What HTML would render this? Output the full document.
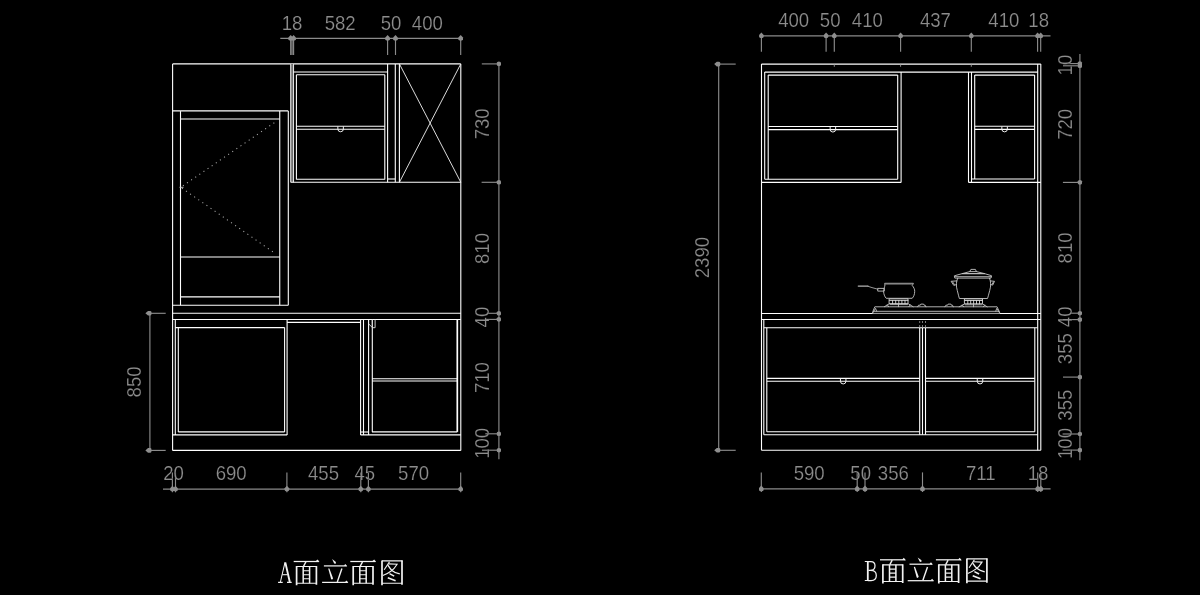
<!DOCTYPE html>
<html><head><meta charset="utf-8"><title>Elevation</title>
<style>
html,body{margin:0;padding:0;background:#000;}
body{width:1200px;height:595px;overflow:hidden;font-family:"Liberation Sans",sans-serif;}
svg{display:block;}
.d{font-family:"Liberation Sans",sans-serif;font-size:20px;fill:#8e8e8e;text-anchor:middle;stroke:#000;stroke-width:0.2px;}
</style></head><body>
<svg width="1200" height="595" viewBox="0 0 1200 595">
<rect width="1200" height="595" fill="#000"/>
<g id="A">
<line x1="172.6" y1="63.9" x2="172.6" y2="450.4" stroke="#ffffff" stroke-width="1.1"/>
<line x1="460.8" y1="63.9" x2="460.8" y2="450.4" stroke="#ffffff" stroke-width="1.1"/>
<line x1="172.6" y1="63.9" x2="460.8" y2="63.9" stroke="#ffffff" stroke-width="1.1"/>
<line x1="172.6" y1="450.4" x2="460.8" y2="450.4" stroke="#ffffff" stroke-width="1.1"/>
<line x1="172.6" y1="110.9" x2="288.3" y2="110.9" stroke="#ffffff" stroke-width="1.1"/>
<line x1="288.3" y1="110.9" x2="288.3" y2="305.2" stroke="#ffffff" stroke-width="1.1"/>
<line x1="172.6" y1="305.2" x2="288.3" y2="305.2" stroke="#ffffff" stroke-width="1.1"/>
<line x1="180.5" y1="111.1" x2="180.5" y2="305.2" stroke="#ffffff" stroke-width="1.1"/>
<line x1="279.75" y1="111.1" x2="279.75" y2="305.2" stroke="#ffffff" stroke-width="1.1"/>
<line x1="180.5" y1="119.05" x2="279.75" y2="119.05" stroke="#ffffff" stroke-width="1.1"/>
<line x1="180.5" y1="257" x2="279.75" y2="257" stroke="#ffffff" stroke-width="1.1"/>
<line x1="180.5" y1="296.9" x2="279.75" y2="296.9" stroke="#ffffff" stroke-width="1.1"/>
<path d="M274.3 122.7 L180.8 187.3 L274.5 253" stroke="#a8a8a8" stroke-width="1.05" fill="none" stroke-dasharray="1.1 3.9"/>
<line x1="179.5" y1="187.3" x2="183.5" y2="187.3" stroke="#cfcfcf" stroke-width="0.9"/>
<rect x="290.7" y="63.9" width="2.8" height="118.4" fill="#6a6a6a"/>
<line x1="290.7" y1="63.9" x2="290.7" y2="182.3" stroke="#e0e0e0" stroke-width="1.1"/>
<line x1="293.5" y1="63.9" x2="293.5" y2="182.3" stroke="#e0e0e0" stroke-width="1.1"/>
<line x1="387.6" y1="63.9" x2="387.6" y2="182.3" stroke="#ffffff" stroke-width="1.1"/>
<line x1="293.5" y1="72" x2="387.6" y2="72" stroke="#ffffff" stroke-width="1.1"/>
<line x1="296.4" y1="74.8" x2="384.8" y2="74.8" stroke="#ffffff" stroke-width="1.1"/>
<line x1="296.4" y1="74.8" x2="296.4" y2="179.4" stroke="#ffffff" stroke-width="1.1"/>
<line x1="384.8" y1="74.8" x2="384.8" y2="179.4" stroke="#ffffff" stroke-width="1.1"/>
<line x1="296.4" y1="126.2" x2="384.8" y2="126.2" stroke="#ffffff" stroke-width="1.1"/>
<line x1="296.4" y1="129.3" x2="384.8" y2="129.3" stroke="#ffffff" stroke-width="1.1"/>
<path d="M337.85 126.4 v2.6 a2.75 2.75 0 0 0 5.5 0 v-2.6" stroke="#f0f0f0" stroke-width="1" fill="none"/>
<line x1="296.4" y1="179.2" x2="384.8" y2="179.2" stroke="#ffffff" stroke-width="1.1"/>
<line x1="387.6" y1="179" x2="395.3" y2="179" stroke="#ffffff" stroke-width="1.1"/>
<line x1="290.7" y1="182.3" x2="460.8" y2="182.3" stroke="#ffffff" stroke-width="1.1"/>
<line x1="395.3" y1="63.9" x2="395.3" y2="182.3" stroke="#ffffff" stroke-width="1.1"/>
<line x1="399.4" y1="63.9" x2="399.4" y2="182.3" stroke="#ffffff" stroke-width="1.1"/>
<line x1="399.4" y1="63.9" x2="460.8" y2="182.3" stroke="#f4f4f4" stroke-width="0.9"/>
<line x1="460.8" y1="63.9" x2="399.4" y2="182.3" stroke="#f4f4f4" stroke-width="0.9"/>
<line x1="172.6" y1="313.3" x2="460.8" y2="313.3" stroke="#ffffff" stroke-width="1.1"/>
<line x1="172.6" y1="319.55" x2="460.8" y2="319.55" stroke="#ffffff" stroke-width="1.1"/>
<line x1="175.3" y1="319.55" x2="175.3" y2="434.9" stroke="#ffffff" stroke-width="1.1"/>
<line x1="178.3" y1="327.6" x2="178.3" y2="431.9" stroke="#ffffff" stroke-width="1.1"/>
<line x1="175.3" y1="327.6" x2="284.6" y2="327.6" stroke="#ffffff" stroke-width="1.1"/>
<line x1="284.6" y1="327.6" x2="284.6" y2="431.9" stroke="#ffffff" stroke-width="1.1"/>
<line x1="287.1" y1="319.55" x2="287.1" y2="434.9" stroke="#ffffff" stroke-width="1.1"/>
<line x1="178.3" y1="431.9" x2="284.6" y2="431.9" stroke="#ffffff" stroke-width="1.1"/>
<line x1="172.6" y1="434.9" x2="287.1" y2="434.9" stroke="#ffffff" stroke-width="1.1"/>
<line x1="287.1" y1="322.4" x2="360.6" y2="322.4" stroke="#ffffff" stroke-width="1.1"/>
<line x1="360.6" y1="319.55" x2="360.6" y2="434.9" stroke="#ffffff" stroke-width="1.1"/>
<line x1="363.5" y1="319.55" x2="363.5" y2="434.9" stroke="#ffffff" stroke-width="1.1"/>
<line x1="360.6" y1="432" x2="368.6" y2="432" stroke="#ffffff" stroke-width="1.1"/>
<line x1="368.6" y1="319.55" x2="368.6" y2="434.9" stroke="#ffffff" stroke-width="1.1"/>
<line x1="372.3" y1="319.55" x2="372.3" y2="431.9" stroke="#ffffff" stroke-width="1.1"/>
<path d="M372.3 319.6 V327.7 H375.1 V319.6" stroke="#e0e0e0" stroke-width="0.9" fill="none"/>
<line x1="368.7" y1="323.9" x2="372.4" y2="327.6" stroke="#e0e0e0" stroke-width="0.9"/>
<line x1="457.3" y1="319.55" x2="457.3" y2="431.9" stroke="#ffffff" stroke-width="1.7"/>
<line x1="372" y1="378.7" x2="457.3" y2="378.7" stroke="#ffffff" stroke-width="1.1"/>
<line x1="372" y1="381" x2="457.3" y2="381" stroke="#ffffff" stroke-width="1.1"/>
<line x1="372" y1="431.9" x2="457.3" y2="431.9" stroke="#ffffff" stroke-width="1.1"/>
<line x1="360.6" y1="434.9" x2="460.8" y2="434.9" stroke="#ffffff" stroke-width="1.1"/>
</g>
<g id="Adim" style="opacity:0.999">
<line x1="280.3" y1="38.3" x2="460.8" y2="38.3" stroke="#8c8c8c" stroke-width="1.15"/>
<rect x="290.7" y="38.3" width="2.9" height="16.7" fill="#5c5c5c"/>
<line x1="290.7" y1="38.3" x2="290.7" y2="55" stroke="#8c8c8c" stroke-width="1.15"/>
<path transform="translate(290.7 38.3)" d="M0 -3.3 L2.3 -0.9 V1 Q2.3 2.4 0 2.4 Q-2.3 2.4 -2.3 1 V-0.9 Z" fill="#8f8f8f"/>
<line x1="293.6" y1="38.3" x2="293.6" y2="55" stroke="#8c8c8c" stroke-width="1.15"/>
<path transform="translate(293.6 38.3)" d="M0 -3.3 L2.3 -0.9 V1 Q2.3 2.4 0 2.4 Q-2.3 2.4 -2.3 1 V-0.9 Z" fill="#8f8f8f"/>
<line x1="387.6" y1="38.3" x2="387.6" y2="55" stroke="#8c8c8c" stroke-width="1.15"/>
<path transform="translate(387.6 38.3)" d="M0 -3.3 L2.3 -0.9 V1 Q2.3 2.4 0 2.4 Q-2.3 2.4 -2.3 1 V-0.9 Z" fill="#8f8f8f"/>
<line x1="395.5" y1="38.3" x2="395.5" y2="55" stroke="#8c8c8c" stroke-width="1.15"/>
<path transform="translate(395.5 38.3)" d="M0 -3.3 L2.3 -0.9 V1 Q2.3 2.4 0 2.4 Q-2.3 2.4 -2.3 1 V-0.9 Z" fill="#8f8f8f"/>
<line x1="460.7" y1="38.3" x2="460.7" y2="55" stroke="#8c8c8c" stroke-width="1.15"/>
<path transform="translate(460.7 38.3)" d="M0 -3.3 L2.3 -0.9 V1 Q2.3 2.4 0 2.4 Q-2.3 2.4 -2.3 1 V-0.9 Z" fill="#8f8f8f"/>
<line x1="163" y1="489.1" x2="460.8" y2="489.1" stroke="#8c8c8c" stroke-width="1.15"/>
<line x1="172.4" y1="472.5" x2="172.4" y2="492.3" stroke="#8c8c8c" stroke-width="1.15"/>
<path transform="translate(172.4 489.1)" d="M0 -3.3 L2.3 -0.9 V1 Q2.3 2.4 0 2.4 Q-2.3 2.4 -2.3 1 V-0.9 Z" fill="#8f8f8f"/>
<line x1="175.5" y1="472.5" x2="175.5" y2="492.3" stroke="#8c8c8c" stroke-width="1.15"/>
<path transform="translate(175.5 489.1)" d="M0 -3.3 L2.3 -0.9 V1 Q2.3 2.4 0 2.4 Q-2.3 2.4 -2.3 1 V-0.9 Z" fill="#8f8f8f"/>
<line x1="286.9" y1="472.5" x2="286.9" y2="492.3" stroke="#8c8c8c" stroke-width="1.15"/>
<path transform="translate(286.9 489.1)" d="M0 -3.3 L2.3 -0.9 V1 Q2.3 2.4 0 2.4 Q-2.3 2.4 -2.3 1 V-0.9 Z" fill="#8f8f8f"/>
<line x1="360.8" y1="472.5" x2="360.8" y2="492.3" stroke="#8c8c8c" stroke-width="1.15"/>
<path transform="translate(360.8 489.1)" d="M0 -3.3 L2.3 -0.9 V1 Q2.3 2.4 0 2.4 Q-2.3 2.4 -2.3 1 V-0.9 Z" fill="#8f8f8f"/>
<line x1="368.4" y1="472.5" x2="368.4" y2="492.3" stroke="#8c8c8c" stroke-width="1.15"/>
<path transform="translate(368.4 489.1)" d="M0 -3.3 L2.3 -0.9 V1 Q2.3 2.4 0 2.4 Q-2.3 2.4 -2.3 1 V-0.9 Z" fill="#8f8f8f"/>
<line x1="460.7" y1="472.5" x2="460.7" y2="492.3" stroke="#8c8c8c" stroke-width="1.15"/>
<path transform="translate(460.7 489.1)" d="M0 -3.3 L2.3 -0.9 V1 Q2.3 2.4 0 2.4 Q-2.3 2.4 -2.3 1 V-0.9 Z" fill="#8f8f8f"/>
<line x1="498.9" y1="63.9" x2="498.9" y2="459.2" stroke="#8c8c8c" stroke-width="1.15"/>
<line x1="481.8" y1="63.9" x2="498.9" y2="63.9" stroke="#8c8c8c" stroke-width="1.15"/>
<path transform="translate(498.9 63.9)" d="M-2.1 -1.1 Q-2.1 -2.1 0 -2.3 Q2.1 -2.1 2.1 -1.1 V1.1 Q2.1 2.1 0 2.3 Q-2.1 2.1 -2.1 1.1 Z" fill="#8f8f8f"/>
<line x1="481.6" y1="182.3" x2="498.9" y2="182.3" stroke="#8c8c8c" stroke-width="1.15"/>
<path transform="translate(498.9 182.3)" d="M-2.1 -1.1 Q-2.1 -2.1 0 -2.3 Q2.1 -2.1 2.1 -1.1 V1.1 Q2.1 2.1 0 2.3 Q-2.1 2.1 -2.1 1.1 Z" fill="#8f8f8f"/>
<line x1="486.8" y1="313.3" x2="498.9" y2="313.3" stroke="#8c8c8c" stroke-width="1.15"/>
<path transform="translate(498.9 313.3)" d="M-2.1 -1.1 Q-2.1 -2.1 0 -2.3 Q2.1 -2.1 2.1 -1.1 V1.1 Q2.1 2.1 0 2.3 Q-2.1 2.1 -2.1 1.1 Z" fill="#8f8f8f"/>
<line x1="485" y1="319.4" x2="498.9" y2="319.4" stroke="#8c8c8c" stroke-width="1.15"/>
<path transform="translate(498.9 319.4)" d="M-2.1 -1.1 Q-2.1 -2.1 0 -2.3 Q2.1 -2.1 2.1 -1.1 V1.1 Q2.1 2.1 0 2.3 Q-2.1 2.1 -2.1 1.1 Z" fill="#8f8f8f"/>
<line x1="485.3" y1="433.8" x2="498.9" y2="433.8" stroke="#8c8c8c" stroke-width="1.15"/>
<path transform="translate(498.9 433.8)" d="M-2.1 -1.1 Q-2.1 -2.1 0 -2.3 Q2.1 -2.1 2.1 -1.1 V1.1 Q2.1 2.1 0 2.3 Q-2.1 2.1 -2.1 1.1 Z" fill="#8f8f8f"/>
<line x1="482" y1="450.2" x2="498.9" y2="450.2" stroke="#8c8c8c" stroke-width="1.15"/>
<path transform="translate(498.9 450.2)" d="M-2.1 -1.1 Q-2.1 -2.1 0 -2.3 Q2.1 -2.1 2.1 -1.1 V1.1 Q2.1 2.1 0 2.3 Q-2.1 2.1 -2.1 1.1 Z" fill="#8f8f8f"/>
<line x1="149.9" y1="313.3" x2="149.9" y2="450.4" stroke="#8c8c8c" stroke-width="1.15"/>
<line x1="149.9" y1="313.3" x2="165.7" y2="313.3" stroke="#8c8c8c" stroke-width="1.15"/>
<path transform="translate(149.9 313.3)" d="M-4.5 0 L-1.9 -2.3 H0.4 Q1.7 -2.3 1.7 0 Q1.7 2.3 0.4 2.3 H-1.9 Z" fill="#8f8f8f"/>
<line x1="149.9" y1="450.4" x2="165.7" y2="450.4" stroke="#8c8c8c" stroke-width="1.15"/>
<path transform="translate(149.9 450.4)" d="M-4.5 0 L-1.9 -2.3 H0.4 Q1.7 -2.3 1.7 0 Q1.7 2.3 0.4 2.3 H-1.9 Z" fill="#8f8f8f"/>
<text transform="translate(292 30.2) scale(0.93 1)" class="d">18</text>
<text transform="translate(340.2 30.2) scale(0.93 1)" class="d">582</text>
<text transform="translate(391 30.2) scale(0.93 1)" class="d">50</text>
<text transform="translate(427.3 30.2) scale(0.93 1)" class="d">400</text>
<text transform="translate(173.6 480.1) scale(0.93 1)" class="d">20</text>
<text transform="translate(231.2 480.1) scale(0.93 1)" class="d">690</text>
<text transform="translate(323.5 480.1) scale(0.93 1)" class="d">455</text>
<text transform="translate(364.8 480.1) scale(0.93 1)" class="d">45</text>
<text transform="translate(413.6 480.1) scale(0.93 1)" class="d">570</text>
<text transform="translate(489.2 123.8) rotate(-90) scale(0.93 1)" class="d">730</text>
<text transform="translate(489.2 248.5) rotate(-90) scale(0.93 1)" class="d">810</text>
<text transform="translate(489.2 317.1) rotate(-90) scale(0.93 1)" class="d">40</text>
<text transform="translate(489.2 377.6) rotate(-90) scale(0.93 1)" class="d">710</text>
<text transform="translate(489.2 443.3) rotate(-90) scale(0.93 1)" class="d">100</text>
<text transform="translate(140.7 381.9) rotate(-90) scale(0.93 1)" class="d">850</text>
</g>
<g id="B">
<line x1="761.5" y1="64.1" x2="761.5" y2="450.3" stroke="#ffffff" stroke-width="1.1"/>
<line x1="1040.8" y1="64.1" x2="1040.8" y2="450.3" stroke="#ffffff" stroke-width="1.1"/>
<line x1="1037.7" y1="64.1" x2="1037.7" y2="450.3" stroke="#ffffff" stroke-width="1.1"/>
<line x1="761.5" y1="64.1" x2="1040.8" y2="64.1" stroke="#ffffff" stroke-width="1.1"/>
<line x1="761.5" y1="450.3" x2="1040.8" y2="450.3" stroke="#ffffff" stroke-width="1.1"/>
<line x1="764.7" y1="72.1" x2="1037.7" y2="72.1" stroke="#ffffff" stroke-width="1.1"/>
<line x1="834.3" y1="64.3" x2="834.3" y2="66.8" stroke="#9a9a9a" stroke-width="0.9"/>
<line x1="900.6" y1="64.3" x2="900.6" y2="66.8" stroke="#9a9a9a" stroke-width="0.9"/>
<line x1="971.3" y1="64.3" x2="971.3" y2="66.8" stroke="#9a9a9a" stroke-width="0.9"/>
<line x1="764.7" y1="72.1" x2="764.7" y2="179.2" stroke="#ffffff" stroke-width="1.1"/>
<line x1="768.2" y1="75.1" x2="768.2" y2="179.2" stroke="#ffffff" stroke-width="1.1"/>
<line x1="897.7" y1="75.1" x2="897.7" y2="179.2" stroke="#ffffff" stroke-width="1.1"/>
<line x1="901.1" y1="72.1" x2="901.1" y2="182.4" stroke="#ffffff" stroke-width="1.1"/>
<line x1="768.2" y1="75.1" x2="897.7" y2="75.1" stroke="#ffffff" stroke-width="1.1"/>
<line x1="768.2" y1="126.5" x2="897.7" y2="126.5" stroke="#ffffff" stroke-width="1.1"/>
<line x1="768.2" y1="129.6" x2="897.7" y2="129.6" stroke="#ffffff" stroke-width="1.1"/>
<path d="M830.15 126.7 v2.6 a2.75 2.75 0 0 0 5.5 0 v-2.6" stroke="#f0f0f0" stroke-width="1" fill="none"/>
<line x1="764.7" y1="179.2" x2="897.7" y2="179.2" stroke="#ffffff" stroke-width="1.1"/>
<line x1="761.5" y1="182.4" x2="901.1" y2="182.4" stroke="#ffffff" stroke-width="1.1"/>
<line x1="968.5" y1="72.1" x2="968.5" y2="182.4" stroke="#ffffff" stroke-width="1.1"/>
<line x1="971.5" y1="72.1" x2="971.5" y2="182.4" stroke="#ffffff" stroke-width="1.1"/>
<line x1="974.7" y1="75.1" x2="974.7" y2="179" stroke="#ffffff" stroke-width="1.1"/>
<line x1="1034.6" y1="75.1" x2="1034.6" y2="179" stroke="#ffffff" stroke-width="1.1"/>
<line x1="974.7" y1="75.1" x2="1034.6" y2="75.1" stroke="#ffffff" stroke-width="1.1"/>
<line x1="974.7" y1="126.3" x2="1034.6" y2="126.3" stroke="#ffffff" stroke-width="1.1"/>
<line x1="974.7" y1="129.4" x2="1034.6" y2="129.4" stroke="#ffffff" stroke-width="1.1"/>
<path d="M1001.85 126.5 v2.6 a2.75 2.75 0 0 0 5.5 0 v-2.6" stroke="#f0f0f0" stroke-width="1" fill="none"/>
<line x1="971.5" y1="179" x2="1034.6" y2="179" stroke="#ffffff" stroke-width="1.1"/>
<line x1="968.5" y1="182.4" x2="1040.8" y2="182.4" stroke="#ffffff" stroke-width="1.1"/>
<line x1="761.5" y1="313.5" x2="872.8" y2="313.5" stroke="#ffffff" stroke-width="1.1"/>
<line x1="999.5" y1="313.5" x2="1040.8" y2="313.5" stroke="#ffffff" stroke-width="1.1"/>
<line x1="761.5" y1="319.5" x2="1040.8" y2="319.5" stroke="#ffffff" stroke-width="1.1"/>
<line x1="763.8" y1="327.8" x2="1037.7" y2="327.8" stroke="#ffffff" stroke-width="1.1"/>
<line x1="763.8" y1="319.5" x2="763.8" y2="434.7" stroke="#ffffff" stroke-width="1.1"/>
<line x1="766.8" y1="327.8" x2="766.8" y2="431.8" stroke="#ffffff" stroke-width="1.1"/>
<line x1="1034.8" y1="327.8" x2="1034.8" y2="431.8" stroke="#ffffff" stroke-width="1.1"/>
<line x1="919.7" y1="327.8" x2="919.7" y2="434.7" stroke="#ffffff" stroke-width="1.1"/>
<line x1="922.5" y1="327.8" x2="922.5" y2="434.7" stroke="#ffffff" stroke-width="1.1"/>
<line x1="925.5" y1="327.8" x2="925.5" y2="434.7" stroke="#ffffff" stroke-width="1.1"/>
<line x1="919.7" y1="321" x2="919.7" y2="323" stroke="#9a9a9a" stroke-width="0.8"/>
<line x1="919.7" y1="325" x2="919.7" y2="327.5" stroke="#9a9a9a" stroke-width="0.8"/>
<line x1="922.5" y1="321" x2="922.5" y2="323" stroke="#9a9a9a" stroke-width="0.8"/>
<line x1="922.5" y1="325" x2="922.5" y2="327.5" stroke="#9a9a9a" stroke-width="0.8"/>
<line x1="925.5" y1="321" x2="925.5" y2="323" stroke="#9a9a9a" stroke-width="0.8"/>
<line x1="925.5" y1="325" x2="925.5" y2="327.5" stroke="#9a9a9a" stroke-width="0.8"/>
<line x1="766.8" y1="378.4" x2="919.7" y2="378.4" stroke="#ffffff" stroke-width="1.1"/>
<line x1="766.8" y1="381.2" x2="919.7" y2="381.2" stroke="#ffffff" stroke-width="1.1"/>
<line x1="766.8" y1="431.8" x2="919.7" y2="431.8" stroke="#ffffff" stroke-width="1.1"/>
<line x1="925.5" y1="378.4" x2="1034.8" y2="378.4" stroke="#ffffff" stroke-width="1.1"/>
<line x1="925.5" y1="381.2" x2="1034.8" y2="381.2" stroke="#ffffff" stroke-width="1.1"/>
<line x1="925.5" y1="431.8" x2="1034.8" y2="431.8" stroke="#ffffff" stroke-width="1.1"/>
<path d="M840.45 378.6 v2.6 a2.75 2.75 0 0 0 5.5 0 v-2.6" stroke="#f0f0f0" stroke-width="1" fill="none"/>
<path d="M977.25 378.6 v2.6 a2.75 2.75 0 0 0 5.5 0 v-2.6" stroke="#f0f0f0" stroke-width="1" fill="none"/>
<line x1="763.8" y1="434.7" x2="1037.7" y2="434.7" stroke="#ffffff" stroke-width="1.1"/>
</g>
<g id="stove" fill="none" stroke="#c4c4c4" stroke-width="0.9" stroke-linejoin="round" stroke-linecap="round">
<!-- stove body -->
<path d="M875.2 306.8 H997.1 L999.6 312.4 V313.4 H872.7 V312.2 Z"/>
<path d="M873.6 311.3 H998.9"/>
<path d="M872.9 312.6 L875.6 308.4 L876.6 311.2 M999.4 312.6 L996.7 308.4 L995.8 311.2"/>
<!-- knobs -->
<path d="M917.6 306.8 L918.6 305.2 H920.3 L920.8 304.1 H923.6 L924.1 305.2 H925.2 L925.9 306.8"/>
<path d="M944.9 306.8 L945.9 305.2 H947.6 L948.1 304.1 H950.9 L951.4 305.2 H952.5 L953.2 306.8"/>
<!-- left burner -->
<path d="M889.5 298.8 H908 V303.6 H889.5 Z M889.5 300.4 H908 M892.6 300.4 V303.6 M895.7 300.4 V303.6 M898.8 300.4 V303.6 M901.9 300.4 V303.6 M905 300.4 V303.6" stroke="#d8d8d8"/>
<path d="M889.5 303.6 L884.4 306.7 M887.4 304.9 L888.6 306.7 M908 303.6 L913.1 306.7 M910.1 304.9 L908.9 306.7 M898.5 303.6 V306.7 M890 304.6 H907.5"/>
<!-- right burner -->
<path d="M964.8 298.9 H982.5 V303.8 H964.8 Z M964.8 300.5 H982.5 M967.8 300.5 V303.8 M970.7 300.5 V303.8 M973.6 300.5 V303.8 M976.5 300.5 V303.8 M979.5 300.5 V303.8" stroke="#d8d8d8"/>
<path d="M964.8 303.8 L959.2 306.8 M962.4 305.1 L963.6 306.8 M982.5 303.8 L987.1 306.8 M984.6 305.1 L983.4 306.8 M973.5 303.8 V306.8 M965.3 304.8 H982"/>
<!-- saucepan -->
<path d="M885.1 283.3 H913.4 L912.2 285.4 C913.8 287.4 914.8 289.4 914.7 291.4 C914.6 294.4 913.8 296.6 912.2 298.3 H886.2 C884.6 296.6 883.7 294 883.6 291.4 C883.9 289 884.7 286.6 884.9 285.4 Z"/>
<path d="M885.2 284.2 H913" stroke="#777"/>
<path d="M858.3 286.1 H868" stroke="#b4b4b4" stroke-width="1.3"/><path d="M868 286.3 L872 287.6 L877.8 289.2" stroke="#a8a8a8" stroke-width="0.9"/>
<path d="M878.1 288.4 H884.3 V291.1 H878.1 Z"/>
<!-- stock pot -->
<path d="M969.8 271.6 L970.9 269.4 H975.4 L976.4 271.6"/>
<path d="M962.3 273.6 L969.8 271.6 H976.4 L984.5 273.6 Z"/>
<path d="M954.7 275.7 L962.3 273.6 H984.5 L991.5 275.7 L991 278.1 H955.2 Z M954.9 276.7 H991.3"/>
<path d="M957.7 278.2 C956 281.5 955.9 286 957.3 290.6 C958.2 294 958.8 296.8 959.4 298.5 H987.5 C988.1 296.8 988.8 294 989.7 290.6 C991.1 286 991 281.5 989.5 278.2"/>
<path d="M956.9 280.9 L951.1 281.3 L953.8 285.4 L956.4 284.6 M952.6 281.9 L954.4 284.5"/>
<path d="M990.3 280.9 L994.5 281.3 L992.7 285.1 L990.8 284.6 M993.4 281.9 L992.2 284.3"/>

</g>
<g id="Bdim" style="opacity:0.999">
<line x1="761.4" y1="35.8" x2="1050.5" y2="35.8" stroke="#8c8c8c" stroke-width="1.15"/>
<line x1="761.4" y1="35.8" x2="761.4" y2="51.8" stroke="#8c8c8c" stroke-width="1.15"/>
<path transform="translate(761.4 35.8)" d="M0 -3.3 L2.3 -0.9 V1 Q2.3 2.4 0 2.4 Q-2.3 2.4 -2.3 1 V-0.9 Z" fill="#8f8f8f"/>
<line x1="826.1" y1="35.8" x2="826.1" y2="51.8" stroke="#8c8c8c" stroke-width="1.15"/>
<path transform="translate(826.1 35.8)" d="M0 -3.3 L2.3 -0.9 V1 Q2.3 2.4 0 2.4 Q-2.3 2.4 -2.3 1 V-0.9 Z" fill="#8f8f8f"/>
<line x1="834.3" y1="35.8" x2="834.3" y2="51.8" stroke="#8c8c8c" stroke-width="1.15"/>
<path transform="translate(834.3 35.8)" d="M0 -3.3 L2.3 -0.9 V1 Q2.3 2.4 0 2.4 Q-2.3 2.4 -2.3 1 V-0.9 Z" fill="#8f8f8f"/>
<line x1="900.6" y1="35.8" x2="900.6" y2="51.8" stroke="#8c8c8c" stroke-width="1.15"/>
<path transform="translate(900.6 35.8)" d="M0 -3.3 L2.3 -0.9 V1 Q2.3 2.4 0 2.4 Q-2.3 2.4 -2.3 1 V-0.9 Z" fill="#8f8f8f"/>
<line x1="971.3" y1="35.8" x2="971.3" y2="51.8" stroke="#8c8c8c" stroke-width="1.15"/>
<path transform="translate(971.3 35.8)" d="M0 -3.3 L2.3 -0.9 V1 Q2.3 2.4 0 2.4 Q-2.3 2.4 -2.3 1 V-0.9 Z" fill="#8f8f8f"/>
<line x1="1037.6" y1="35.8" x2="1037.6" y2="51.8" stroke="#8c8c8c" stroke-width="1.15"/>
<path transform="translate(1037.6 35.8)" d="M0 -3.3 L2.3 -0.9 V1 Q2.3 2.4 0 2.4 Q-2.3 2.4 -2.3 1 V-0.9 Z" fill="#8f8f8f"/>
<line x1="1040.7" y1="35.8" x2="1040.7" y2="51.8" stroke="#8c8c8c" stroke-width="1.15"/>
<path transform="translate(1040.7 35.8)" d="M0 -3.3 L2.3 -0.9 V1 Q2.3 2.4 0 2.4 Q-2.3 2.4 -2.3 1 V-0.9 Z" fill="#8f8f8f"/>
<line x1="761.3" y1="488.9" x2="1050.6" y2="488.9" stroke="#8c8c8c" stroke-width="1.15"/>
<line x1="761.3" y1="472.4" x2="761.3" y2="492" stroke="#8c8c8c" stroke-width="1.15"/>
<path transform="translate(761.3 488.9)" d="M0 -3.3 L2.3 -0.9 V1 Q2.3 2.4 0 2.4 Q-2.3 2.4 -2.3 1 V-0.9 Z" fill="#8f8f8f"/>
<line x1="857.2" y1="472.4" x2="857.2" y2="492" stroke="#8c8c8c" stroke-width="1.15"/>
<path transform="translate(857.2 488.9)" d="M0 -3.3 L2.3 -0.9 V1 Q2.3 2.4 0 2.4 Q-2.3 2.4 -2.3 1 V-0.9 Z" fill="#8f8f8f"/>
<line x1="865" y1="472.4" x2="865" y2="492" stroke="#8c8c8c" stroke-width="1.15"/>
<path transform="translate(865 488.9)" d="M0 -3.3 L2.3 -0.9 V1 Q2.3 2.4 0 2.4 Q-2.3 2.4 -2.3 1 V-0.9 Z" fill="#8f8f8f"/>
<line x1="922.5" y1="472.4" x2="922.5" y2="492" stroke="#8c8c8c" stroke-width="1.15"/>
<path transform="translate(922.5 488.9)" d="M0 -3.3 L2.3 -0.9 V1 Q2.3 2.4 0 2.4 Q-2.3 2.4 -2.3 1 V-0.9 Z" fill="#8f8f8f"/>
<line x1="1037.7" y1="472.4" x2="1037.7" y2="492" stroke="#8c8c8c" stroke-width="1.15"/>
<path transform="translate(1037.7 488.9)" d="M0 -3.3 L2.3 -0.9 V1 Q2.3 2.4 0 2.4 Q-2.3 2.4 -2.3 1 V-0.9 Z" fill="#8f8f8f"/>
<line x1="1040.8" y1="472.4" x2="1040.8" y2="492" stroke="#8c8c8c" stroke-width="1.15"/>
<path transform="translate(1040.8 488.9)" d="M0 -3.3 L2.3 -0.9 V1 Q2.3 2.4 0 2.4 Q-2.3 2.4 -2.3 1 V-0.9 Z" fill="#8f8f8f"/>
<line x1="1079.9" y1="54" x2="1079.9" y2="460.3" stroke="#8c8c8c" stroke-width="1.15"/>
<line x1="1063" y1="63.6" x2="1079.9" y2="63.6" stroke="#8c8c8c" stroke-width="1.15"/>
<path transform="translate(1079.9 63.6)" d="M-2.1 -1.1 Q-2.1 -2.1 0 -2.3 Q2.1 -2.1 2.1 -1.1 V1.1 Q2.1 2.1 0 2.3 Q-2.1 2.1 -2.1 1.1 Z" fill="#8f8f8f"/>
<line x1="1063" y1="65.8" x2="1079.9" y2="65.8" stroke="#8c8c8c" stroke-width="1.15"/>
<path transform="translate(1079.9 65.8)" d="M-2.1 -1.1 Q-2.1 -2.1 0 -2.3 Q2.1 -2.1 2.1 -1.1 V1.1 Q2.1 2.1 0 2.3 Q-2.1 2.1 -2.1 1.1 Z" fill="#8f8f8f"/>
<line x1="1062.9" y1="182.4" x2="1079.9" y2="182.4" stroke="#8c8c8c" stroke-width="1.15"/>
<path transform="translate(1079.9 182.4)" d="M-2.1 -1.1 Q-2.1 -2.1 0 -2.3 Q2.1 -2.1 2.1 -1.1 V1.1 Q2.1 2.1 0 2.3 Q-2.1 2.1 -2.1 1.1 Z" fill="#8f8f8f"/>
<line x1="1070" y1="313.2" x2="1079.9" y2="313.2" stroke="#8c8c8c" stroke-width="1.15"/>
<path transform="translate(1079.9 313.2)" d="M-2.1 -1.1 Q-2.1 -2.1 0 -2.3 Q2.1 -2.1 2.1 -1.1 V1.1 Q2.1 2.1 0 2.3 Q-2.1 2.1 -2.1 1.1 Z" fill="#8f8f8f"/>
<line x1="1063" y1="319.6" x2="1079.9" y2="319.6" stroke="#8c8c8c" stroke-width="1.15"/>
<path transform="translate(1079.9 319.6)" d="M-2.1 -1.1 Q-2.1 -2.1 0 -2.3 Q2.1 -2.1 2.1 -1.1 V1.1 Q2.1 2.1 0 2.3 Q-2.1 2.1 -2.1 1.1 Z" fill="#8f8f8f"/>
<line x1="1063" y1="377.1" x2="1079.9" y2="377.1" stroke="#8c8c8c" stroke-width="1.15"/>
<path transform="translate(1079.9 377.1)" d="M-2.1 -1.1 Q-2.1 -2.1 0 -2.3 Q2.1 -2.1 2.1 -1.1 V1.1 Q2.1 2.1 0 2.3 Q-2.1 2.1 -2.1 1.1 Z" fill="#8f8f8f"/>
<line x1="1062.6" y1="434" x2="1079.9" y2="434" stroke="#8c8c8c" stroke-width="1.15"/>
<path transform="translate(1079.9 434)" d="M-2.1 -1.1 Q-2.1 -2.1 0 -2.3 Q2.1 -2.1 2.1 -1.1 V1.1 Q2.1 2.1 0 2.3 Q-2.1 2.1 -2.1 1.1 Z" fill="#8f8f8f"/>
<line x1="1062.6" y1="450.1" x2="1079.9" y2="450.1" stroke="#8c8c8c" stroke-width="1.15"/>
<path transform="translate(1079.9 450.1)" d="M-2.1 -1.1 Q-2.1 -2.1 0 -2.3 Q2.1 -2.1 2.1 -1.1 V1.1 Q2.1 2.1 0 2.3 Q-2.1 2.1 -2.1 1.1 Z" fill="#8f8f8f"/>
<line x1="718.7" y1="64.1" x2="718.7" y2="450.3" stroke="#8c8c8c" stroke-width="1.15"/>
<line x1="718.7" y1="64.1" x2="735.7" y2="64.1" stroke="#8c8c8c" stroke-width="1.15"/>
<path transform="translate(718.7 64.1)" d="M-4.5 0 L-1.9 -2.3 H0.4 Q1.7 -2.3 1.7 0 Q1.7 2.3 0.4 2.3 H-1.9 Z" fill="#8f8f8f"/>
<line x1="718.7" y1="450.3" x2="735.7" y2="450.3" stroke="#8c8c8c" stroke-width="1.15"/>
<path transform="translate(718.7 450.3)" d="M-4.5 0 L-1.9 -2.3 H0.4 Q1.7 -2.3 1.7 0 Q1.7 2.3 0.4 2.3 H-1.9 Z" fill="#8f8f8f"/>
<text transform="translate(793.7 27) scale(0.93 1)" class="d">400</text>
<text transform="translate(830.2 27) scale(0.93 1)" class="d">50</text>
<text transform="translate(867.3 27) scale(0.93 1)" class="d">410</text>
<text transform="translate(935.4 27) scale(0.93 1)" class="d">437</text>
<text transform="translate(1003.8 27) scale(0.93 1)" class="d">410</text>
<text transform="translate(1038.7 27) scale(0.93 1)" class="d">18</text>
<text transform="translate(809.2 480) scale(0.93 1)" class="d">590</text>
<text transform="translate(860.7 480) scale(0.93 1)" class="d">50</text>
<text transform="translate(893.3 480) scale(0.93 1)" class="d">356</text>
<text transform="translate(980.8 480) scale(0.93 1)" class="d">711</text>
<text transform="translate(1038.1 480) scale(0.93 1)" class="d">18</text>
<text transform="translate(1071.8 65.1) rotate(-90) scale(0.93 1)" class="d">10</text>
<text transform="translate(1071.8 124.3) rotate(-90) scale(0.93 1)" class="d">720</text>
<text transform="translate(1071.8 247.9) rotate(-90) scale(0.93 1)" class="d">810</text>
<text transform="translate(1071.8 316.8) rotate(-90) scale(0.93 1)" class="d">40</text>
<text transform="translate(1071.8 348.7) rotate(-90) scale(0.93 1)" class="d">355</text>
<text transform="translate(1071.8 405.2) rotate(-90) scale(0.93 1)" class="d">355</text>
<text transform="translate(1071.8 443.5) rotate(-90) scale(0.93 1)" class="d">100</text>
<text transform="translate(709.3 257.6) rotate(-90) scale(0.93 1)" class="d">2390</text>
</g>
<defs>
<g id="mian" fill="none" stroke="#f2f2f2" stroke-linecap="butt">
  <path d="M0.4 561.5 H25.6" stroke-width="1.25"/>
  <path d="M22.6 561.1 L24.3 559.5 L26.2 562.1 Z" fill="#f2f2f2" stroke="none"/>
  <path d="M12.6 561.9 L10.2 566.3" stroke-width="1.4"/>
  <path d="M3.3 566 V585.2 M23.1 566 V584.8" stroke-width="1.7"/>
  <path d="M3.3 566.5 H23.1 M3.3 583.2 H23.1" stroke-width="1.15"/>
  <path d="M9.9 566.5 V583.2 M16.3 566.5 V583.2" stroke-width="1.5"/>
  <path d="M9.9 570.8 H16.3 M9.9 574.8 H16.3 M9.9 578.8 H16.3" stroke-width="1.05"/>
</g>
<g id="li" fill="none" stroke="#f2f2f2">
  <path d="M332.1 559.1 L335.9 562 L335.7 563.7 L334.2 563.5 Z" fill="#f2f2f2" stroke="none"/>
  <path d="M323.9 565.9 H346.6" stroke-width="1.25"/>
  <path d="M343.9 565.5 L345.4 564 L347.2 566.5 Z" fill="#f2f2f2" stroke="none"/>
  <path d="M328.2 568.6 L329.4 568.4 L333.1 578.4 L332 579.8 L331.1 579.1 Z" fill="#f2f2f2" stroke="none"/>
  <path d="M341.9 568.6 L337.3 581.9" stroke-width="1.4"/>
  <path d="M322.1 582.4 H347.8" stroke-width="1.25"/>
  <path d="M345 582 L346.6 580.5 L348.4 583 Z" fill="#f2f2f2" stroke="none"/>
</g>
<g id="tu" fill="none" stroke="#f2f2f2">
  <path d="M382 560.6 V585.3 M402 560.6 V584.8" stroke-width="1.7"/>
  <path d="M382 560.9 H402.6 M382 583.2 H402" stroke-width="1.15"/>
  <path d="M389.5 561.8 L384.2 569.8" stroke-width="1.15"/>
  <path d="M388.4 563.9 L397.1 564.2 C395 567.6 392.6 570 391.2 571 C388.6 573 385.6 574.5 382.8 575.5" stroke-width="1.1"/>
  <path d="M387.8 565.2 C389.4 567.6 390.6 569.2 391.9 570.4 C394 572.2 396.8 573.2 399.8 573.9" stroke-width="1.35"/>
  <path d="M389.5 573.7 L394.2 576.1" stroke-width="1.5"/>
  <path d="M387.8 577.8 L395.6 580.8" stroke-width="1.5"/>
</g>
</defs>
<g id="titleA" role="img" aria-label="A面立面图"><title>A面立面图</title>
  <g fill="none" stroke="#f2f2f2">
    <path d="M285 562.4 L280.4 582" stroke-width="1.05"/>
    <path d="M285.3 562.4 L289.8 582" stroke-width="1.9"/>
    <path d="M282.3 574.7 H287.7" stroke-width="1.05"/>
    <path d="M278.1 582.3 H282.7 M287 582.3 H291.7" stroke-width="1.15"/>
  </g>
  <use href="#mian" x="293.3"/>
  <use href="#li"/>
  <use href="#mian" x="349.9"/>
  <use href="#tu"/>
</g>
<g id="titleB" role="img" aria-label="B面立面图"><title>B面立面图</title>
  <g fill="none" stroke="#f2f2f2">
    <path d="M867.8 561.4 V580.6" stroke-width="1.8"/>
    <path d="M864.8 561.5 H869 M864.8 580.5 H869" stroke-width="1.05"/>
    <path d="M867.8 561.5 H870.9 C873.7 561.5 875 563.5 875 565.8 C875 568.4 873.4 570.3 870.6 570.3 H868.4" stroke-width="1.25"/>
    <path d="M870.6 570.3 C874.3 570.3 876.3 572.6 876.3 575.4 C876.3 578.4 874.3 580.5 871.1 580.5 H867.8" stroke-width="1.25"/>
  </g>
  <g transform="translate(585.6 -1.7)">
    <use href="#mian" x="294"/>
    <use href="#li"/>
    <use href="#mian" x="349.9"/>
    <use href="#tu" x="-0.7" y="-0.4"/>
  </g>
</g>

</svg>
</body></html>
